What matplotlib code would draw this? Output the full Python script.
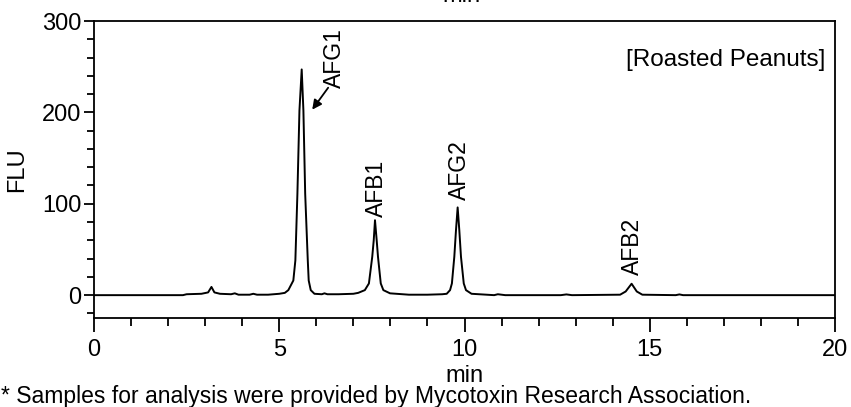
import matplotlib
matplotlib.use("Agg")
import matplotlib.pyplot as plt
import numpy as np

plt.rcParams['font.family'] = ['Liberation Sans', 'DejaVu Sans']

# chromatogram trace (time in min, signal in FLU)
time_min = [0.0, 2.4, 2.5, 2.9, 3.08, 3.17, 3.25, 3.4, 3.7, 3.8, 3.9, 4.2, 4.3, 4.4,
            4.7, 5.0, 5.15, 5.245, 5.38, 5.435, 5.49, 5.545, 5.606, 5.652, 5.70,
            5.77, 5.795, 5.85, 5.95,
            6.15, 6.22, 6.3, 6.6, 7.0, 7.13, 7.31, 7.42, 7.51, 7.55, 7.584, 7.63,
            7.665, 7.74, 7.81, 7.99,
            8.5, 9.0, 9.4, 9.52, 9.61, 9.66, 9.725, 9.77, 9.815, 9.86, 9.905, 9.98,
            10.04, 10.19, 10.8, 10.9, 11.1,
            12.6, 12.75, 12.9, 14.2, 14.35, 14.51, 14.65, 14.8, 15.7, 15.8, 15.9, 20.0]
signal_flu = [0.0, 0.0, 1.0, 1.5, 3.0, 9.0, 3.0, 1.5, 1.0, 2.0, 0.5, 0.5, 1.5, 0.5,
              0.5, 1.5, 2.5, 5.5, 16.0, 38.0, 111.0, 202.0, 247.0, 202.0, 111.0,
              38.0, 16.0, 5.5, 1.5,
              1.0, 2.0, 1.0, 1.0, 1.5, 2.5, 5.5, 12.8, 42.0, 60.0, 82.0, 60.0,
              42.0, 12.8, 5.5, 2.0,
              0.5, 0.5, 1.0, 1.5, 5.5, 12.8, 42.0, 71.0, 96.0, 71.0, 42.0, 12.8,
              5.5, 1.5, 0.0, 1.0, 0.0,
              0.0, 0.8, 0.0, 0.5, 4.0, 12.5, 4.0, 0.5, 0.0, 0.8, 0.0, 0.0]

# peak labels (name, x, bottom y of rotated text)
peak_names = ['AFG1', 'AFB1', 'AFG2', 'AFB2']
label_x = [6.5, 7.63, 9.86, 14.54]
label_y = [227, 86, 104, 22]

fig = plt.figure(figsize=(8.51, 4.07), dpi=100)
ax = fig.add_axes([94 / 851, 1 - 318 / 407, (835 - 94) / 851, (318 - 21) / 407])

ax.plot(time_min, signal_flu, color='black', lw=1.4)

ax.set_xlim(0, 20)
ax.set_ylim(-25, 300)
ax.set_xticks([0, 5, 10, 15, 20])
ax.set_xticks(np.arange(0, 21, 1), minor=True)
ax.set_yticks([0, 100, 200, 300])
ax.set_yticks(np.arange(-20, 301, 20), minor=True)
ax.tick_params(axis='both', which='major', labelsize=17, width=1.3, color='black')
ax.tick_params(axis='x', which='major', length=10, pad=5)
ax.tick_params(axis='x', which='minor', length=6, width=1.3)
ax.tick_params(axis='y', which='major', length=7, pad=2)
ax.tick_params(axis='y', which='minor', length=5, width=1.3)
for s in ax.spines.values():
    s.set_linewidth(1.3)

ax.set_xlabel('min', fontsize=17, labelpad=3)
ax.set_ylabel('FLU', fontsize=17, labelpad=10)

for name, x, y in zip(peak_names, label_x, label_y):
    ax.text(x, y, name, rotation=90, ha='center', va='bottom', fontsize=16.5)

ax.annotate('', xy=(5.89, 203), xytext=(6.32, 227),
            arrowprops=dict(arrowstyle='-|>', color='black', lw=1.3,
                            mutation_scale=14, shrinkA=0, shrinkB=0))

ax.text(0.987, 0.87, '[Roasted Peanuts]', transform=ax.transAxes,
        ha='right', va='center', fontsize=17.5)

# leftover axis title from the chart above, cut by the top edge
fig.text(461 / 851, 1 - 2 / 407, 'min', ha='center', va='baseline', fontsize=17)

fig.text(1 / 851, 1 - 403 / 407,
         '* Samples for analysis were provided by Mycotoxin Research Association.',
         ha='left', va='baseline', fontsize=16.5)

fig.savefig('out.png', dpi=100)
